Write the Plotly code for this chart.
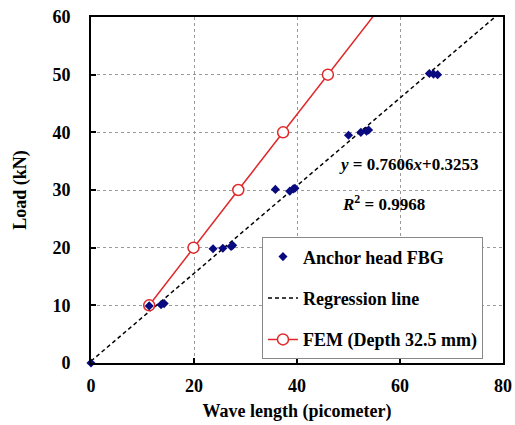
import plotly.graph_objects as go

# Anchor head FBG measured data
fbg_x = [0, 11.3, 13.6, 14.2, 23.7, 25.6, 27.2, 27.5, 35.8, 38.6, 39.3, 39.6, 50.0, 52.4, 53.5, 53.9, 65.7, 66.5, 67.3]
fbg_y = [0, 9.9, 10.1, 10.3, 19.8, 19.9, 20.2, 20.4, 30.1, 29.8, 30.2, 30.3, 39.5, 40.0, 40.2, 40.4, 50.2, 50.1, 50.0]

# FEM results (last point lies above the plotted range and is clipped)
fem_x = [11.3, 19.9, 28.6, 37.3, 46.0, 63.4]
fem_y = [10, 20, 30, 40, 50, 70]

# Regression line
slope = 0.7606
intercept = 0.3253
reg_x = [0, 80]
reg_y = [intercept + slope * v for v in reg_x]

x_ticks = [0, 20, 40, 60, 80]
y_ticks = [0, 10, 20, 30, 40, 50, 60]

FONT = "Liberation Serif, Times New Roman, serif"
NAVY = "#0A0A80"
RED = "#E0282A"

fig = go.Figure()
fig.add_trace(go.Scatter(
    x=reg_x, y=reg_y, mode="lines", name="Regression line",
    line=dict(color="black", width=1.5, dash="4px,3px"),
    legendgroup="b", legendrank=2))
fig.add_trace(go.Scatter(
    x=fem_x, y=fem_y, mode="lines+markers", name="FEM (Depth 32.5 mm)",
    line=dict(color=RED, width=1.5),
    marker=dict(symbol="circle", size=11, color="white",
                line=dict(color=RED, width=1.5)),
    cliponaxis=True,
    legendgroup="c", legendrank=3))
fig.add_trace(go.Scatter(
    x=fbg_x, y=fbg_y, mode="markers", name="Anchor head FBG",
    marker=dict(symbol="diamond", size=7, color=NAVY),
    cliponaxis=False,
    legendgroup="a", legendrank=1))

fig.add_annotation(x=61.7, y=34.5, xref="x", yref="y",
                   text="<b><i>y</i> = 0.7606<i>x</i>+0.3253</b>",
                   showarrow=False, font=dict(family=FONT, size=17, color="black"))
fig.add_annotation(x=56.8, y=27.7, xref="x", yref="y",
                   text="<b><i>R</i><sup>2</sup> = 0.9968</b>",
                   showarrow=False, font=dict(family=FONT, size=17, color="black"))

axis_common = dict(
    showgrid=True, gridcolor="#9a9a9a", griddash="dot", gridwidth=1,
    showline=True, linecolor="black", linewidth=2, mirror=True,
    ticks="inside", ticklen=5, tickcolor="black", tickwidth=1.5,
    zeroline=False, automargin=False,
    tickfont=dict(family=FONT, size=18, color="black", weight="bold"),
)

fig.update_xaxes(range=[0, 80], tickvals=x_ticks, ticklabelstandoff=5,
                 title=dict(text="Wave length (picometer)", standoff=10,
                            font=dict(family=FONT, size=18, color="black", weight="bold")),
                 **axis_common)
fig.update_yaxes(range=[0, 60], tickvals=y_ticks, ticklabelstandoff=15,
                 title=dict(text="Load (kN)", standoff=21,
                            font=dict(family=FONT, size=18, color="black", weight="bold")),
                 **axis_common)

fig.update_layout(
    width=515, height=425,
    margin=dict(l=91, r=12, t=17, b=62),
    plot_bgcolor="white", paper_bgcolor="white",
    showlegend=True,
    legend=dict(x=0.415, y=0.363, xanchor="left", yanchor="top",
                bgcolor="white", bordercolor="#888888", borderwidth=1,
                font=dict(family=FONT, size=18, color="black", weight="bold"),
                tracegroupgap=15, itemwidth=30),
)

fig.write_html("out.html")
